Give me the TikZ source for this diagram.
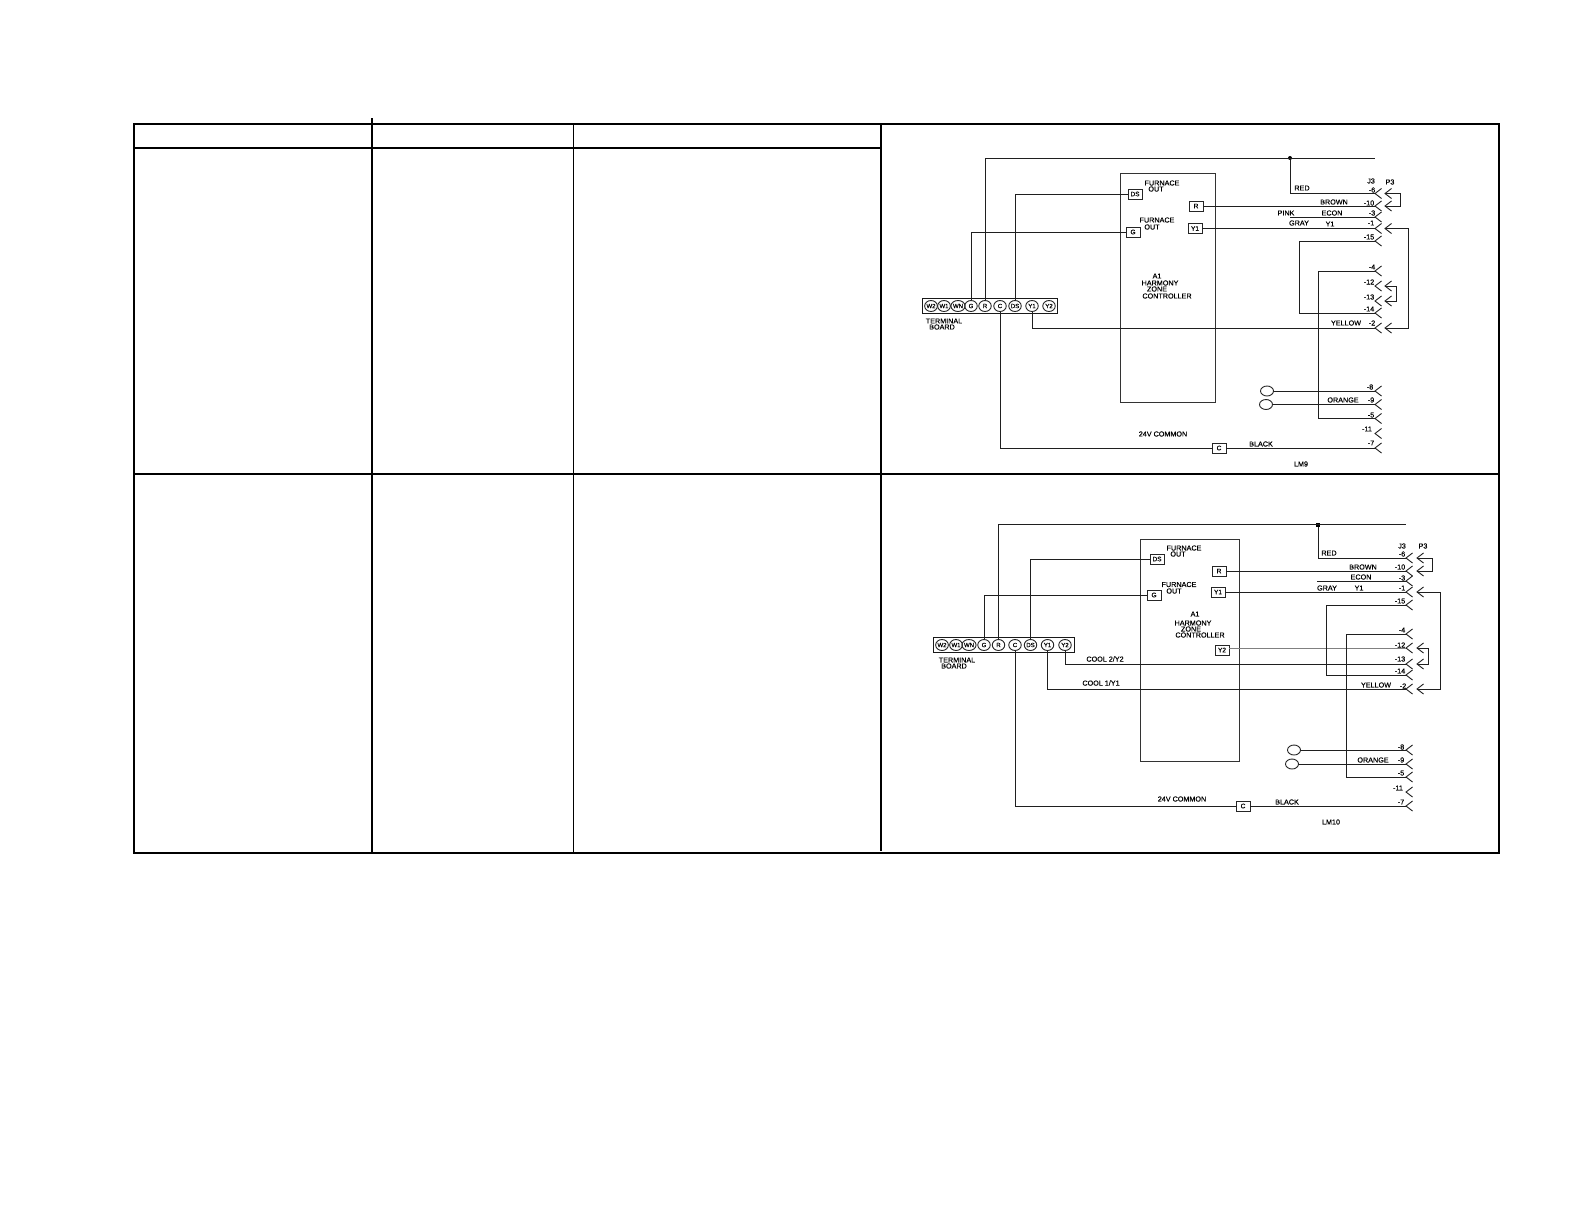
\documentclass[tikz,border=0pt]{standalone}
\usepackage{fontspec}
\setmainfont{Liberation Sans}
\newfontfamily\wiref[FakeBold=0.35]{Liberation Sans}
\newcounter{lb}
\newcommand\lab[3]{\stepcounter{lb}\node[lbl] (lb\arabic{lb}) at (#1,#2) {#3};}
\newcommand\jpin[3]{\coordinate (#1) at (#2,#3);\draw[chev] ([xshift=6.5pt,yshift=5pt]#1) -- (#1) -- ([xshift=6.5pt,yshift=-5pt]#1);}
\newcommand\term[4]{\node[termn] (#1) at (#2,#3) {#4};}
\usetikzlibrary{shapes.geometric}
\tikzset{
  lbl/.style={inner sep=0pt,font=\wiref\fontsize{7.2}{7.2}\selectfont,text=black},
  termn/.style={draw=black!85,ellipse,line width=.9pt,minimum width=12.5pt,minimum height=11pt,inner sep=0pt,font=\wiref\fontsize{6}{6}\selectfont},
  cbox/.style={draw=black!85,line width=.9pt,fill=white,minimum width=14pt,minimum height=10pt,inner sep=0pt,font=\wiref\fontsize{6.5}{6.5}\selectfont},
  wire/.style={line width=1pt,draw=black!88},
  graywire/.style={line width=1pt,draw=black!50},
  chev/.style={line width=.9pt,draw=black!88},
  thick rule/.style={line width=2pt,draw=black,line cap=rect},
  thin rule/.style={line width=1pt,draw=black},
  lead/.style={draw=black!85,line width=.9pt,ellipse,minimum width=13pt,minimum height=10pt,inner sep=0pt}
}
\begin{document}
\begin{tikzpicture}[x=1pt,y=-1pt]
\useasboundingbox[fill=white] (0,0) rectangle (1584,1224);
% table
\draw[thick rule] (134,124) rectangle (1499,853);
\draw[thick rule] (134,148) -- (881,148);
\draw[thick rule] (134,474) -- (1499,474);
\draw[thick rule] (372,119) -- (372,853);
\draw[thin rule] (573.5,124) -- (573.5,853);
\draw[thick rule] (881,124) -- (881,850);

% ===== upper diagram
\node[draw=black!80,line width=.9pt,minimum width=95pt,minimum height=229pt,inner sep=0pt] (ctlA) at (1167.5,287.5) {};
\node[draw=black!90,line width=.9pt,minimum width=135pt,minimum height=15pt,inner sep=0pt] (boardA) at (989.5,305.5) {};
\term{aW}{931}{306}{W2}\term{aWa}{944}{306}{W1}\term{aWn}{958}{306}{WN}
\term{aG}{971}{306}{G}\term{aR}{985}{306}{R}\term{aC}{1000}{306}{C}
\term{aDS}{1015}{306}{DS}\term{aYa}{1032}{306}{Y1}\term{aYb}{1049}{306}{Y2}
\node[cbox] (abDS) at (1135,194) {DS};
\node[cbox] (abG) at (1133,232) {G};
\node[cbox] (abR) at (1196,206) {R};
\node[cbox] (abY) at (1195,228.5) {Y1};
\node[cbox] (abC) at (1219,448) {C};
\jpin{a6}{1375}{193.5}\jpin{a10}{1375}{206}\jpin{a3}{1375}{217}\jpin{a1}{1375}{228.5}\jpin{a15}{1375}{241}
\jpin{a4}{1375}{271}\jpin{a12}{1375}{286}\jpin{a13}{1375}{301}\jpin{a14}{1375}{313}\jpin{a2}{1375}{328}
\jpin{a8}{1375}{391}\jpin{a9}{1375}{404.5}\jpin{a5}{1375}{418.5}\jpin{a11}{1375}{433.5}\jpin{a7}{1375}{448}
\jpin{ap6}{1385}{193.5}\jpin{ap10}{1385}{206}\jpin{ap1}{1385}{228.5}\jpin{ap12}{1385}{286}\jpin{ap13}{1385}{301}\jpin{ap2}{1385}{328}
\coordinate (aEnd) at (1375,158);
\coordinate (aPink) at (1290,217);
\node[circle,fill=black,inner sep=0pt,minimum size=4pt] (aDot) at (1290,158) {};
\node[lead] (aO1) at (1267,391) {};
\node[lead] (aO2) at (1266,404.5) {};
\draw[wire] (aR.north) |- (aEnd);
\draw[wire] (aDot) |- (a6);
\draw[wire] (aDS.north) |- (abDS.west);
\draw[wire] (aG.north) |- (abG.west);
\draw[wire] (abR.east) -- (a10);
\draw[wire] (abY.east) -- (a1);
\draw[wire] (aPink) -- (a3);
\draw[wire] (a15) -- ++(-76,0) |- (a14);
\draw[wire] (a4) -- ++(-57,0) |- (a5);
\draw[wire] (aYa.south) |- (a2);
\draw[wire] (aC.south) |- (abC.west);
\draw[wire] (abC.east) -- (a7);
\draw[wire] (aO1) -- (a8);
\draw[wire] (aO2) -- (a9);
\draw[wire] (ap6) -- ++(15.5,0) |- (ap10);
\draw[wire] (ap12) -- ++(11.5,0) |- (ap13);
\draw[wire] (ap1) -- ++(23,0) |- (ap2);
\lab{1162}{183}{FURNACE}\lab{1156}{189}{OUT}\lab{1157}{220}{FURNACE}\lab{1152}{227}{OUT}
\lab{1157}{276}{A1}\lab{1160}{283}{HARMONY}\lab{1157}{289}{ZONE}\lab{1167}{296}{CONTROLLER}
\lab{944}{321}{TERMINAL}\lab{942}{327}{BOARD}
\lab{1302}{188}{RED}\lab{1334}{202}{BROWN}\lab{1286}{213}{PINK}\lab{1332}{213}{ECON}
\lab{1299}{223}{GRAY}\lab{1330}{224}{Y1}
\lab{1371}{181}{J3}\lab{1390}{182}{P3}
\lab{1372}{190}{-6}\lab{1369}{203}{-10}\lab{1372}{213}{-3}\lab{1371}{223}{-1}\lab{1369}{237}{-15}
\lab{1372}{267}{-4}\lab{1369}{282}{-12}\lab{1369}{297}{-13}\lab{1369}{309}{-14}\lab{1372}{323}{-2}
\lab{1346}{323}{YELLOW}
\lab{1370}{387}{-8}\lab{1343}{400}{ORANGE}\lab{1371}{400}{-9}\lab{1371}{415}{-5}\lab{1367}{429}{-11}\lab{1371}{443}{-7}
\lab{1261}{444}{BLACK}\lab{1163}{434}{24V COMMON}\lab{1301}{464}{LM9}

% ===== lower diagram
\node[draw=black!80,line width=.9pt,minimum width=99pt,minimum height=222pt,inner sep=0pt] (ctlB) at (1189.5,650) {};
\node[draw=black!90,line width=.9pt,minimum width=141pt,minimum height=15pt,inner sep=0pt] (boardB) at (1003.5,644.5) {};
\term{bW}{942}{645}{W2}\term{bWa}{956}{645}{W1}\term{bWn}{969}{645}{WN}
\term{bG}{984}{645}{G}\term{bR}{998.5}{645}{R}\term{bC}{1015}{645}{C}
\term{bDS}{1030.5}{645}{DS}\term{bYa}{1047.5}{645}{Y1}\term{bYb}{1065}{645}{Y2}
\node[cbox] (bbDS) at (1157,559) {DS};
\node[cbox] (bbG) at (1154,595) {G};
\node[cbox] (bbR) at (1219,571) {R};
\node[cbox] (bbY) at (1218,592) {Y1};
\node[cbox] (bbYb) at (1222,650) {Y2};
\node[cbox] (bbC) at (1243,806) {C};
\jpin{b6}{1406}{558}\jpin{b10}{1406}{571}\jpin{b3}{1406}{581}\jpin{b1}{1406}{592}\jpin{b15}{1406}{605}
\jpin{b4}{1406}{634}\jpin{b12}{1406}{648}\jpin{b13}{1406}{664}\jpin{b14}{1406}{675}\jpin{b2}{1406}{689}
\jpin{b8}{1406}{750}\jpin{b9}{1406}{764}\jpin{b5}{1406}{777}\jpin{b11}{1406}{792}\jpin{b7}{1406}{806}
\jpin{bp6}{1417}{558}\jpin{bp10}{1417}{571}\jpin{bp1}{1417}{592}\jpin{bp12}{1417}{648}\jpin{bp13}{1417}{664}\jpin{bp2}{1417}{689}
\coordinate (bEnd) at (1406,524.5);
\coordinate (bEcon) at (1317,581);
\node[rectangle,fill=black,inner sep=0pt,minimum size=4pt] (bDot) at (1318,524.5) {};
\node[lead] (bO1) at (1294,750) {};
\node[lead] (bO2) at (1292,764) {};
\draw[wire] (bR.north) |- (bEnd);
\draw[wire] (bDot) |- (b6);
\draw[wire] (bDS.north) |- (bbDS.west);
\draw[wire] (bG.north) |- (bbG.west);
\draw[wire] (bbR.east) -- (b10);
\draw[wire] (bbY.east) -- (b1);
\draw[wire] (bEcon) -- (b3);
\draw[graywire] (bbYb.east |- b12) -- (b12);
\draw[wire] (bYb.south) |- (b13);
\draw[wire] (bYa.south) |- (b2);
\draw[wire] (b15) -- ++(-80,0) |- (b14);
\draw[wire] (b4) -- ++(-60,0) |- (b5);
\draw[wire] (bC.south) |- (bbC.west);
\draw[wire] (bbC.east) -- (b7);
\draw[wire] (bO1) -- (b8);
\draw[wire] (bO2) -- (b9);
\draw[wire] (bp6) -- ++(15,0) |- (bp10);
\draw[wire] (bp12) -- ++(11,0) |- (bp13);
\draw[wire] (bp1) -- ++(23,0) |- (bp2);
\lab{1184}{548}{FURNACE}\lab{1178}{554}{OUT}\lab{1179}{584.5}{FURNACE}\lab{1174}{591}{OUT}
\lab{1195}{614}{A1}\lab{1193}{623}{HARMONY}\lab{1191}{629}{ZONE}\lab{1200}{635}{CONTROLLER}
\lab{957}{660}{TERMINAL}\lab{954}{666}{BOARD}
\lab{1105}{659}{COOL 2/Y2}\lab{1101}{683}{COOL 1/Y1}
\lab{1329}{553}{RED}\lab{1363}{567}{BROWN}\lab{1361}{577}{ECON}\lab{1327}{588}{GRAY}\lab{1359}{588}{Y1}
\lab{1402}{546}{J3}\lab{1423}{546}{P3}
\lab{1402}{554}{-6}\lab{1400}{567}{-10}\lab{1402}{578}{-3}\lab{1402}{588}{-1}\lab{1400}{601}{-15}
\lab{1402}{630}{-4}\lab{1400}{645}{-12}\lab{1400}{659}{-13}\lab{1400}{671}{-14}\lab{1403}{686}{-2}
\lab{1376}{685}{YELLOW}
\lab{1401}{747}{-8}\lab{1373}{760}{ORANGE}\lab{1401}{760}{-9}\lab{1401}{773}{-5}\lab{1398}{788}{-11}\lab{1401}{802}{-7}
\lab{1287}{802}{BLACK}\lab{1182}{799}{24V COMMON}\lab{1331}{822}{LM10}
\end{tikzpicture}
\end{document}
